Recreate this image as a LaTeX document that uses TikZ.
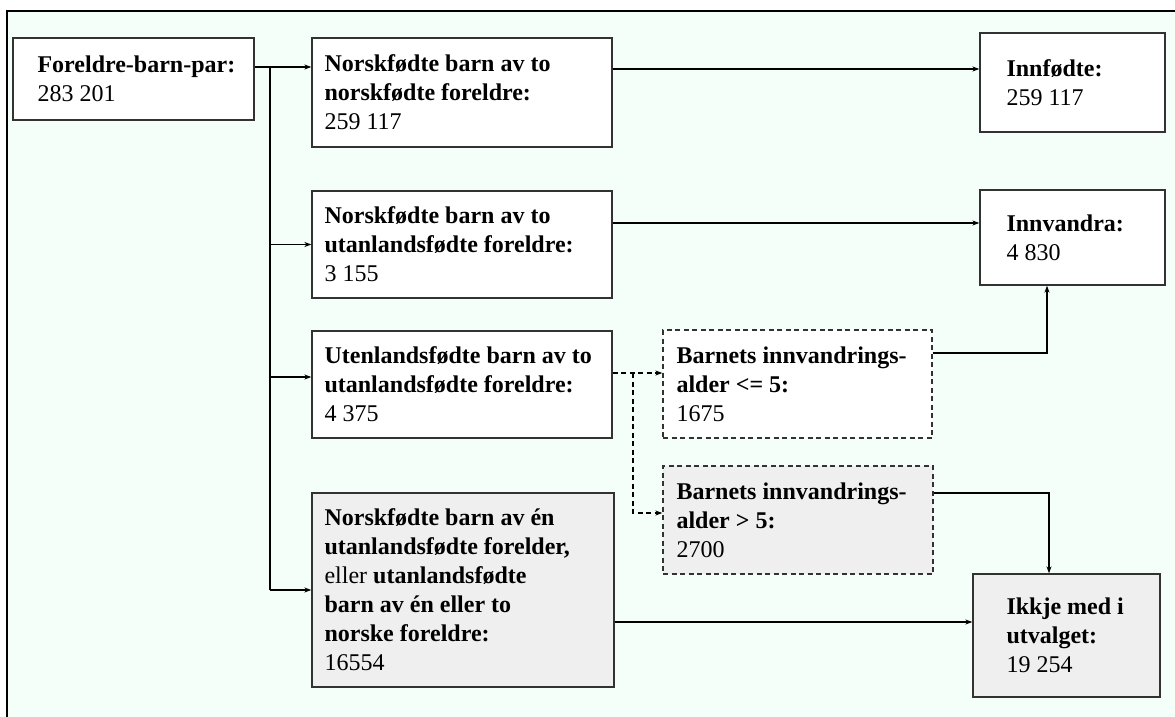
\documentclass[tikz,border=0pt]{standalone}
\usepackage{fontspec}
\setmainfont{Liberation Serif}
\usetikzlibrary{arrows.meta,calc}
\definecolor{bgmint}{RGB}{245,255,250}
\definecolor{boxgray}{RGB}{239,239,239}
\definecolor{edgegray}{RGB}{50,50,50}
\begin{document}
\begin{tikzpicture}[x=1pt,y=-1pt,
  box/.style={draw=edgegray, line width=1.3pt, fill=white, inner sep=0pt},
  graybox/.style={box, fill=boxgray},
  dbox/.style={box, dash pattern=on 5pt off 3.5pt},
  txt/.style={align=left, inner sep=0pt, font=\fontsize{24}{29}\selectfont},
  line/.style={draw=black, line width=1.2pt},
  conn/.style={line, -{Stealth[length=7pt,width=5pt]}},
  dconn/.style={conn, dash pattern=on 5pt off 3.5pt}]
\useasboundingbox (0,0) rectangle (1175,717);
\fill[bgmint] (7,11) rectangle (1175,717);
\draw[line width=2.5pt] (7,717) -- (7,11) -- (1175,11);

% boxes
\node[box, minimum width=241pt, minimum height=82pt] (A) at (133.5,79) {};
\node[box, minimum width=300pt, minimum height=109pt] (B1) at (462,92.5) {};
\node[box, minimum width=300pt, minimum height=107pt] (B2) at (462,244.5) {};
\node[box, minimum width=300pt, minimum height=107pt] (B3) at (462,384.5) {};
\node[graybox, minimum width=302pt, minimum height=194pt] (B4) at (463,590) {};
\node[dbox, minimum width=269pt, minimum height=108pt] (C1) at (797.5,384) {};
\node[dbox, fill=boxgray, minimum width=270pt, minimum height=108pt] (C2) at (798,520) {};
\node[box, minimum width=185pt, minimum height=99pt] (D1) at (1072.5,82.5) {};
\node[box, minimum width=185pt, minimum height=95pt] (D2) at (1072.5,237.5) {};
\node[graybox, minimum width=187pt, minimum height=123pt] (D3) at (1066.5,635.5) {};

% texts
\node[txt, anchor=west] (At) at ([xshift=25pt]A.west) {\textbf{Foreldre-barn-par:}\\283 201};
\node[txt, anchor=west] (B1t) at ([xshift=13pt]B1.west) {\textbf{Norskfødte barn av to}\\\textbf{norskfødte foreldre:}\\259 117};
\node[txt, anchor=west] (B2t) at ([xshift=13pt]B2.west) {\textbf{Norskfødte barn av to}\\\textbf{utanlandsfødte foreldre:}\\3 155};
\node[txt, anchor=west] (B3t) at ([xshift=13pt]B3.west) {\textbf{Utenlandsfødte barn av to}\\\textbf{utanlandsfødte foreldre:}\\4 375};
\node[txt, anchor=west] (B4t) at ([xshift=13pt]B4.west) {\textbf{Norskfødte barn av én}\\\textbf{utanlandsfødte forelder,}\\eller \textbf{utanlandsfødte}\\\textbf{barn av én eller to}\\\textbf{norske foreldre:}\\16554};
\node[txt, anchor=west] (C1t) at ([xshift=14pt]C1.west) {\textbf{Barnets innvandrings-}\\\textbf{alder <= 5:}\\1675};
\node[txt, anchor=west] (C2t) at ([xshift=14pt]C2.west) {\textbf{Barnets innvandrings-}\\\textbf{alder > 5:}\\2700};
\node[txt, anchor=west] (D1t) at ([xshift=27pt]D1.west) {\textbf{Innfødte:}\\259 117};
\node[txt, anchor=west] (D2t) at ([xshift=27pt]D2.west) {\textbf{Innvandra:}\\4 830};
\node[txt, anchor=west] (D3t) at ([xshift=34pt]D3.west) {\textbf{Ikkje med i}\\\textbf{utvalget:}\\19 254};

% connector points
\coordinate (aout) at ([yshift=12pt]A.east);
\coordinate (tr) at (270,67);
\coordinate (b3in) at ([yshift=7.5pt]B3.west);
\coordinate (d1in) at ([yshift=13.5pt]D1.west);
\coordinate (d2in) at ([yshift=14.5pt]D2.west);
\coordinate (c1in) at ([yshift=11pt]C1.west);
\coordinate (c2in) at ([yshift=7pt]C2.west);
\coordinate (split) at (633,373);
\coordinate (c1out) at ([yshift=31pt]C1.east);
\coordinate (d2bot) at ([xshift=-25.5pt]D2.south);
\coordinate (c2out) at ([yshift=27pt]C2.east);
\coordinate (d3top) at ([xshift=-17.5pt]D3.north);
\coordinate (d3in) at ([yshift=13.5pt]D3.west);

% connectors
\draw[conn] (aout) -- (aout -| B1.west);
\draw[line] (tr |- aout) -- (tr |- B4.west);
\draw[conn] (tr |- B2.west) -- (B2.west);
\draw[conn] (tr |- b3in) -- (b3in);
\draw[conn] (tr |- B4.west) -- (B4.west);
\draw[conn] (d1in -| B1.east) -- (d1in);
\draw[conn] (d2in -| B2.east) -- (d2in);
\draw[dconn] (c1in -| B3.east) -- (c1in);
\draw[dconn] (split |- c1in) |- (c2in);
\draw[conn] (c1out) -| (d2bot);
\draw[conn] (c2out) -| (d3top);
\draw[conn] (d3in -| B4.east) -- (d3in);
\end{tikzpicture}
\end{document}
